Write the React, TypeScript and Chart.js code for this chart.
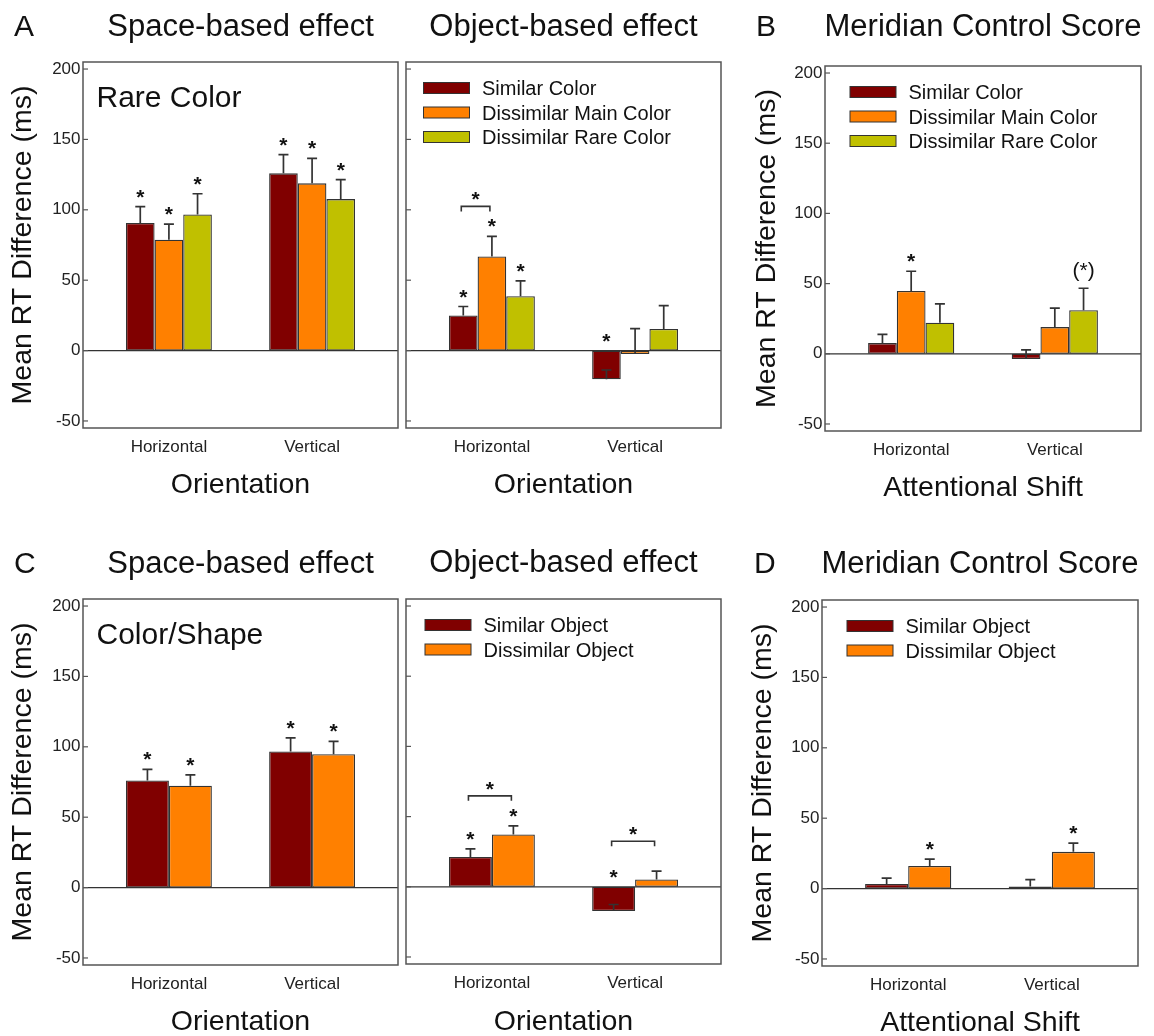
import React, { useEffect, useRef } from 'react';
import { Chart, registerables } from 'chart.js';

Chart.register(...registerables);

const FONT = '"Liberation Sans", Arial, Helvetica, sans-serif';

// ---------- shared labels ----------
const categories = ['Horizontal', 'Vertical'];
const xRange = [-0.6, 1.6];
const yRange = [-55, 205];
const yTickValues = [-50, 0, 50, 100, 150, 200];
const colorConditions = ['Similar Color', 'Dissimilar Main Color', 'Dissimilar Rare Color'];
const objectConditions = ['Similar Object', 'Dissimilar Object'];
const conditionColors = ['#800000', '#ff8000', '#c0c000'];

// ---------- A: Rare Color, space-based ----------
const aSpaceSimilar = [90.6, 125.9];
const aSpaceSimilarSE = [11.6, 13.3];
const aSpaceMain = [78.7, 118.8];
const aSpaceMainSE = [11.2, 17.8];
const aSpaceRare = [96.7, 107.6];
const aSpaceRareSE = [14.7, 13.8];
const aSpaceSig = [['*', '*'], ['*', '*'], ['*', '*']];

// ---------- A: Rare Color, object-based ----------
const aObjSimilar = [24.9, -20.4];
const aObjSimilarSE = [6.4, 6.6];
const aObjMain = [66.9, -2.4];
const aObjMainSE = [14.2, 18.0];
const aObjRare = [38.6, 15.4];
const aObjRareSE = [10.9, 16.6];
const aObjSig = [['*', '*'], ['*', ''], ['*', '']];

// ---------- B: meridian control (colors) ----------
const bSimilar = [7.6, -3.8];
const bSimilarSE = [6.2, 6.6];
const bMain = [44.8, 19.0];
const bMainSE = [14.0, 13.5];
const bRare = [22.1, 31.1];
const bRareSE = [13.5, 15.6];
const bSig = [['', ''], ['*', ''], ['', '(*)']];

// ---------- C: Color/Shape, space-based ----------
const cSpaceSimilar = [76.1, 96.7];
const cSpaceSimilarSE = [7.8, 9.7];
const cSpaceDissimilar = [72.3, 94.8];
const cSpaceDissimilarSE = [7.8, 9.0];
const cSpaceSig = [['*', '*'], ['*', '*']];

// ---------- C: Color/Shape, object-based ----------
const cObjSimilar = [21.3, -17.3];
const cObjSimilarSE = [5.7, 4.7];
const cObjDissimilar = [37.2, 5.2];
const cObjDissimilarSE = [6.2, 5.9];
const cObjSig = [['*', '*'], ['*', '']];

// ---------- D: meridian control (objects) ----------
const dSimilar = [3.3, 1.4];
const dSimilarSE = [4.1, 5.0];
const dDissimilar = [16.1, 26.1];
const dDissimilarSE = [4.8, 6.2];
const dSig = [['', ''], ['*', '*']];

type Bracket = { cat: number; a: number; b: number; label: string };

type PanelSpec = {
  key: string;
  box: { x: number; y: number; w: number; h: number };
  frame: { l: number; t: number; r: number; b: number };
  letter?: { text: string; x: number };
  title: string;
  titleBaseline: number;
  series: string[];
  values: number[][];
  errors: number[][];
  sig: string[][];
  brackets: Bracket[];
  yLabels: boolean;
  yTitlePad: number;
  xTitle: string;
  xTitlePad: number;
  legendDx?: number;
  inset?: string;
};

const panels: PanelSpec[] = [
  {
    key: 'aSpace',
    box: { x: 0, y: 0, w: 402, h: 518 },
    frame: { l: 83, t: 62, r: 398, b: 428 },
    letter: { text: 'A', x: 14 },
    title: 'Space-based effect',
    titleBaseline: 36,
    series: colorConditions,
    values: [aSpaceSimilar, aSpaceMain, aSpaceRare],
    errors: [aSpaceSimilarSE, aSpaceMainSE, aSpaceRareSE],
    sig: aSpaceSig,
    brackets: [],
    yLabels: true,
    yTitlePad: 9,
    xTitle: 'Orientation',
    xTitlePad: 18.5,
    inset: 'Rare Color',
  },
  {
    key: 'aObj',
    box: { x: 402, y: 0, w: 338, h: 518 },
    frame: { l: 406, t: 62, r: 721, b: 428 },
    title: 'Object-based effect',
    titleBaseline: 36,
    series: colorConditions,
    values: [aObjSimilar, aObjMain, aObjRare],
    errors: [aObjSimilarSE, aObjMainSE, aObjRareSE],
    sig: aObjSig,
    brackets: [{ cat: 0, a: 0, b: 1, label: '*' }],
    yLabels: false,
    yTitlePad: 0,
    xTitle: 'Orientation',
    xTitlePad: 18.5,
    legendDx: 17.5,
  },
  {
    key: 'b',
    box: { x: 740, y: 0, w: 414, h: 518 },
    frame: { l: 825, t: 66, r: 1141, b: 431 },
    letter: { text: 'B', x: 756 },
    title: 'Meridian Control Score',
    titleBaseline: 36,
    series: colorConditions,
    values: [bSimilar, bMain, bRare],
    errors: [bSimilarSE, bMainSE, bRareSE],
    sig: bSig,
    brackets: [],
    yLabels: true,
    yTitlePad: 12.5,
    xTitle: 'Attentional Shift',
    xTitlePad: 15.5,
    legendDx: 25,
  },
  {
    key: 'cSpace',
    box: { x: 0, y: 518, w: 402, h: 518 },
    frame: { l: 83, t: 599, r: 398, b: 965 },
    letter: { text: 'C', x: 14 },
    title: 'Space-based effect',
    titleBaseline: 572.5,
    series: objectConditions,
    values: [cSpaceSimilar, cSpaceDissimilar],
    errors: [cSpaceSimilarSE, cSpaceDissimilarSE],
    sig: cSpaceSig,
    brackets: [],
    yLabels: true,
    yTitlePad: 9,
    xTitle: 'Orientation',
    xTitlePad: 0,
    inset: 'Color/Shape',
  },
  {
    key: 'cObj',
    box: { x: 402, y: 518, w: 338, h: 518 },
    frame: { l: 406, t: 599, r: 721, b: 964 },
    title: 'Object-based effect',
    titleBaseline: 572,
    series: objectConditions,
    values: [cObjSimilar, cObjDissimilar],
    errors: [cObjSimilarSE, cObjDissimilarSE],
    sig: cObjSig,
    brackets: [
      { cat: 0, a: 0, b: 1, label: '*' },
      { cat: 1, a: 0, b: 1, label: '*' },
    ],
    yLabels: false,
    yTitlePad: 0,
    xTitle: 'Orientation',
    xTitlePad: 0,
    legendDx: 19,
  },
  {
    key: 'd',
    box: { x: 740, y: 518, w: 414, h: 518 },
    frame: { l: 822, t: 600, r: 1138, b: 966 },
    letter: { text: 'D', x: 754 },
    title: 'Meridian Control Score',
    titleBaseline: 572.5,
    series: objectConditions,
    values: [dSimilar, dDissimilar],
    errors: [dSimilarSE, dDissimilarSE],
    sig: dSig,
    brackets: [],
    yLabels: true,
    yTitlePad: 9,
    xTitle: 'Attentional Shift',
    xTitlePad: -1.5,
    legendDx: 25,
  },
];

function makeDecor(p: PanelSpec) {
  return {
    id: 'decor_' + p.key,
    afterDatasetsDraw(chart: any) {
      const ctx: CanvasRenderingContext2D = chart.ctx;
      const { left, right, top, bottom } = chart.chartArea;
      const ys = chart.scales.y;
      const ox = p.box.x;
      const oy = p.box.y;
      const ink = '#333333';
      ctx.save();

      // zero line
      const y0 = ys.getPixelForValue(0);
      ctx.strokeStyle = ink;
      ctx.lineWidth = 1.2;
      ctx.beginPath();
      ctx.moveTo(left, y0);
      ctx.lineTo(right, y0);
      ctx.stroke();

      // error bars (SigmaPlot style: drawn in the positive direction)
      ctx.lineWidth = 1.7;
      ctx.strokeStyle = ink;
      p.values.forEach((vals, i) => {
        const meta = chart.getDatasetMeta(i);
        vals.forEach((v, j) => {
          const el = meta.data[j];
          const yv = ys.getPixelForValue(v);
          const ye = ys.getPixelForValue(v + p.errors[i][j]);
          ctx.beginPath();
          ctx.moveTo(el.x, yv);
          ctx.lineTo(el.x, ye);
          ctx.moveTo(el.x - 5, ye);
          ctx.lineTo(el.x + 5, ye);
          ctx.stroke();
        });
      });

      const drawCentered = (text: string, cx: number, cy: number, size: number, bold: boolean) => {
        ctx.font = `${bold ? 'bold ' : ''}${size}px ${FONT}`;
        const m = ctx.measureText(text);
        const base = cy + (m.actualBoundingBoxAscent - m.actualBoundingBoxDescent) / 2;
        ctx.textAlign = 'center';
        ctx.textBaseline = 'alphabetic';
        ctx.fillText(text, cx, base);
      };

      // significance stars
      ctx.fillStyle = '#111111';
      p.sig.forEach((row, i) => {
        const meta = chart.getDatasetMeta(i);
        row.forEach((s, j) => {
          if (!s) return;
          const el = meta.data[j];
          const topVal = Math.max(p.values[i][j] + p.errors[i][j], 0);
          const multi = s.length > 1;
          drawCentered(s, el.x, ys.getPixelForValue(topVal) - (multi ? 17 : 13), multi ? 21 : 21, !multi);
        });
      });

      // comparison brackets
      p.brackets.forEach((br) => {
        const ea = chart.getDatasetMeta(br.a).data[br.cat];
        const eb = chart.getDatasetMeta(br.b).data[br.cat];
        const ta = ys.getPixelForValue(Math.max(p.values[br.a][br.cat] + p.errors[br.a][br.cat], 0));
        const tb = ys.getPixelForValue(Math.max(p.values[br.b][br.cat] + p.errors[br.b][br.cat], 0));
        const yb = Math.min(ta, tb) - 30;
        const xa = ea.x - 2;
        const xb = eb.x - 2;
        ctx.strokeStyle = ink;
        ctx.lineWidth = 1.6;
        ctx.beginPath();
        ctx.moveTo(xa, yb + 5);
        ctx.lineTo(xa, yb);
        ctx.lineTo(xb, yb);
        ctx.lineTo(xb, yb + 5);
        ctx.stroke();
        drawCentered(br.label, (xa + xb) / 2, yb - 10, 21, true);
      });

      // inward y ticks
      ctx.strokeStyle = '#555555';
      ctx.lineWidth = 1.2;
      yTickValues.forEach((v) => {
        const y = ys.getPixelForValue(v);
        ctx.beginPath();
        ctx.moveTo(left, y);
        ctx.lineTo(left + 5, y);
        ctx.stroke();
      });

      // frame
      ctx.strokeStyle = '#555555';
      ctx.lineWidth = 1.5;
      ctx.strokeRect(left, top, right - left, bottom - top);

      // legend
      if (p.legendDx !== undefined) {
        p.series.forEach((name, i) => {
          const cy = top + 26 + i * 24.5;
          const bx = left + p.legendDx!;
          ctx.fillStyle = conditionColors[i];
          ctx.fillRect(bx, cy - 5.5, 46, 11);
          ctx.strokeStyle = ink;
          ctx.lineWidth = 1;
          ctx.strokeRect(bx, cy - 5.5, 46, 11);
          ctx.fillStyle = '#111111';
          ctx.font = `20px ${FONT}`;
          ctx.textAlign = 'left';
          ctx.textBaseline = 'alphabetic';
          ctx.fillText(name, bx + 58.5, cy + 7.2);
        });
      }

      // inset label
      if (p.inset) {
        ctx.fillStyle = '#111111';
        ctx.font = `30px ${FONT}`;
        ctx.textAlign = 'left';
        ctx.textBaseline = 'alphabetic';
        ctx.fillText(p.inset, left + 13.5, top + 44.5);
      }

      // panel title and letter
      ctx.fillStyle = '#111111';
      ctx.font = `31px ${FONT}`;
      ctx.textBaseline = 'alphabetic';
      ctx.textAlign = 'center';
      ctx.fillText(p.title, (left + right) / 2, p.titleBaseline - oy);
      if (p.letter) {
        ctx.textAlign = 'left';
        ctx.font = `30px ${FONT}`;
        ctx.fillText(p.letter.text, p.letter.x - ox, p.titleBaseline - oy);
      }
      ctx.restore();
    },
  };
}

function PanelChart({ p }: { p: PanelSpec }) {
  const ref = useRef<HTMLCanvasElement | null>(null);
  useEffect(() => {
    if (!ref.current) return;
    const yWidth = p.frame.l - p.box.x;
    const xHeight = p.box.y + p.box.h - p.frame.b;
    const chart = new Chart(ref.current, {
      type: 'bar',
      data: {
        datasets: p.series.map((name, i) => ({
          label: name,
          data: categories.map((_, j) => ({ x: j, y: p.values[i][j] })),
          backgroundColor: conditionColors[i],
          borderColor: '#333333',
          borderWidth: 1.3,
          borderSkipped: false,
          categoryPercentage: 0.6,
          barPercentage: 1,
        })),
      },
      options: {
        responsive: false,
        animation: false,
        events: [],
        layout: {
          padding: {
            left: 0,
            top: p.frame.t - p.box.y,
            right: p.box.x + p.box.w - p.frame.r,
            bottom: 0,
          },
        },
        plugins: {
          legend: { display: false },
          tooltip: { enabled: false },
          title: { display: false },
        },
        scales: {
          x: {
            type: 'linear',
            min: xRange[0],
            max: xRange[1],
            offset: false,
            bounds: 'data',
            grid: { display: false, drawTicks: false, offset: false },
            border: { display: false },
            afterBuildTicks: (s: any) => {
              s.ticks = categories.map((_, j) => ({ value: j }));
              s.min = xRange[0];
              s.max = xRange[1];
            },
            afterFit: (s: any) => {
              s.height = xHeight;
            },
            ticks: {
              padding: 9,
              maxRotation: 0,
              autoSkip: false,
              color: '#222222',
              font: { family: FONT, size: 17 },
              callback: (v: any) => categories[Math.round(Number(v))] ?? '',
            },
            title: {
              display: true,
              text: p.xTitle,
              color: '#111111',
              font: { family: FONT, size: 28.5, lineHeight: 1 },
              padding: { top: 0, bottom: p.xTitlePad },
            },
          },
          y: {
            type: 'linear',
            min: yRange[0],
            max: yRange[1],
            bounds: 'data',
            grid: { display: false, drawTicks: false },
            border: { display: false },
            afterBuildTicks: (s: any) => {
              s.ticks = yTickValues.map((v) => ({ value: v }));
              s.min = yRange[0];
              s.max = yRange[1];
            },
            afterFit: (s: any) => {
              s.width = yWidth;
            },
            ticks: {
              display: p.yLabels,
              padding: 2.5,
              color: '#222222',
              font: { family: FONT, size: 17 },
            },
            title: {
              display: p.yLabels,
              text: 'Mean RT Difference (ms)',
              color: '#111111',
              font: { family: FONT, size: 28.5, lineHeight: 1 },
              padding: { top: p.yTitlePad, bottom: 0 },
            },
          },
        },
      } as any,
      plugins: [makeDecor(p)],
    });
    return () => chart.destroy();
  }, [p]);
  return (
    <canvas
      ref={ref}
      width={p.box.w}
      height={p.box.h}
      style={{
        position: 'absolute',
        left: p.box.x,
        top: p.box.y,
        width: p.box.w,
        height: p.box.h,
        display: 'block',
      }}
    />
  );
}

export default function App() {
  return (
    <div
      style={{
        position: 'absolute',
        left: 0,
        top: 0,
        width: 1154,
        height: 1036,
        background: '#ffffff',
        overflow: 'hidden',
      }}
    >
      {panels.map((p) => (
        <PanelChart key={p.key} p={p} />
      ))}
    </div>
  );
}
